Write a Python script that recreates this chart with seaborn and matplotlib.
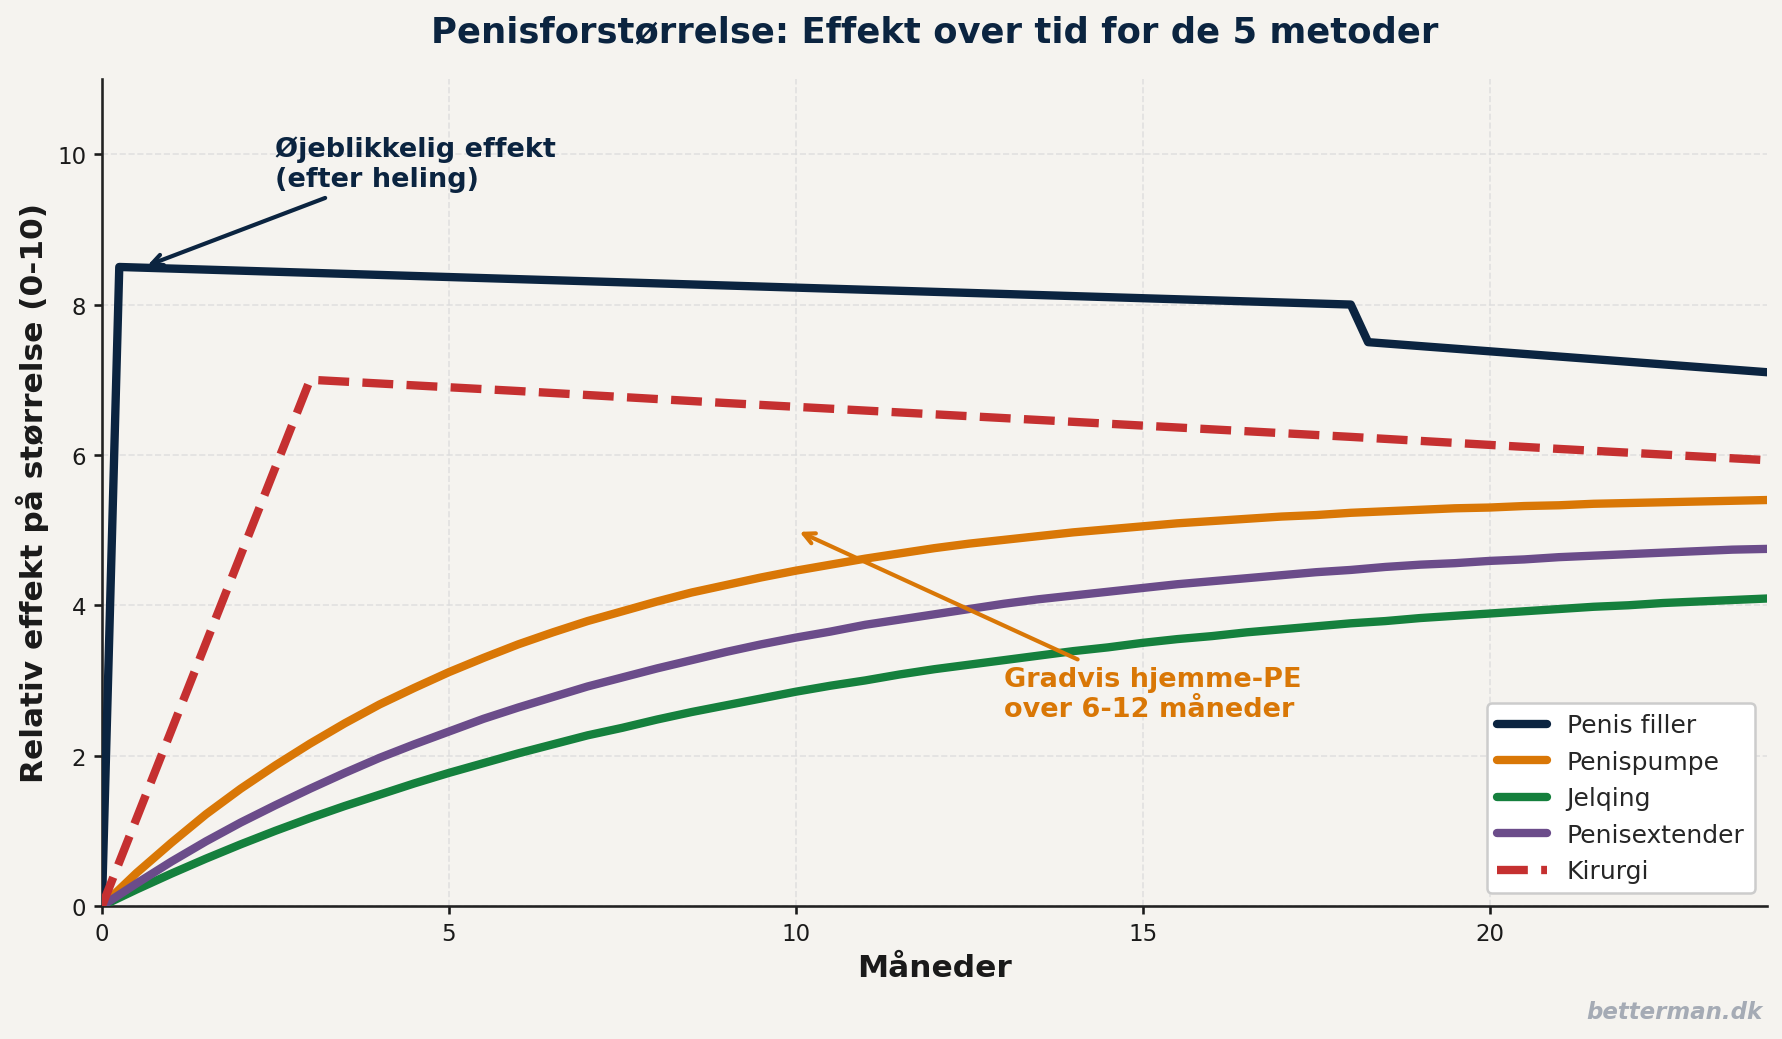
import numpy as np
import matplotlib
matplotlib.use("Agg")
import matplotlib.pyplot as plt
import pandas as pd
import seaborn as sns

# (months, relative effect 0-10), half-month steps
months = [i / 2 for i in range(49)]
pumpe = [0, 0.44, 0.84, 1.22, 1.56, 1.87, 2.16, 2.43, 2.68, 2.90, 3.11, 3.30, 3.48,
         3.64, 3.79, 3.92, 4.05, 4.17, 4.27, 4.37, 4.46, 4.54, 4.62, 4.69, 4.76,
         4.82, 4.87, 4.92, 4.97, 5.01, 5.05, 5.09, 5.12, 5.15, 5.18, 5.20, 5.23,
         5.25, 5.27, 5.29, 5.30, 5.32, 5.33, 5.35, 5.36, 5.37, 5.38, 5.39, 5.40]
jelqing = [0, 0.22, 0.43, 0.63, 0.82, 1.00, 1.17, 1.33, 1.48, 1.63, 1.77, 1.90, 2.03,
           2.15, 2.27, 2.37, 2.48, 2.58, 2.67, 2.76, 2.85, 2.93, 3.00, 3.08, 3.15,
           3.21, 3.27, 3.33, 3.39, 3.44, 3.50, 3.55, 3.59, 3.64, 3.68, 3.72, 3.76,
           3.79, 3.83, 3.86, 3.89, 3.92, 3.95, 3.98, 4.00, 4.03, 4.05, 4.07, 4.09]
extender = [0, 0.30, 0.59, 0.86, 1.11, 1.34, 1.56, 1.77, 1.97, 2.15, 2.32, 2.49, 2.64,
            2.78, 2.92, 3.04, 3.16, 3.27, 3.38, 3.48, 3.57, 3.65, 3.74, 3.81, 3.88,
            3.95, 4.02, 4.08, 4.13, 4.18, 4.23, 4.28, 4.32, 4.36, 4.40, 4.44, 4.47,
            4.51, 4.54, 4.56, 4.59, 4.61, 4.64, 4.66, 4.68, 4.70, 4.72, 4.74, 4.75]

filler_t = [0, 0.25, 18, 18.25, 24]
filler = [0, 8.5, 8.0, 7.5, 7.1]

kirurgi_t = [0, 3, 6, 9, 12, 15, 18, 21, 24]
kirurgi = [0, 7.0, 6.85, 6.69, 6.54, 6.39, 6.24, 6.08, 5.93]

labels = ["Penis filler", "Penispumpe", "Jelqing", "Penisextender", "Kirurgi"]
colors = ["#0b2440", "#d97706", "#15803d", "#6b4c8a", "#c53030"]

bg = "#f5f3ef"
navy = "#0b2440"

sns.set_theme(style="ticks")
plt.rcParams["font.family"] = ["DejaVu Sans"]

fig = plt.figure(figsize=(11.88, 6.933), dpi=150, facecolor=bg)
ax = fig.add_axes([0.0572, 0.1279, 0.9344, 0.7952])
ax.set_facecolor(bg)

df_f = pd.DataFrame({"t": filler_t, "v": filler})
df_p = pd.DataFrame({"t": months, "v": pumpe})
df_j = pd.DataFrame({"t": months, "v": jelqing})
df_e = pd.DataFrame({"t": months, "v": extender})
df_k = pd.DataFrame({"t": kirurgi_t, "v": kirurgi})

for d, lab, c in zip([df_f, df_p, df_j, df_e], labels[:4], colors[:4]):
    sns.lineplot(data=d, x="t", y="v", ax=ax, color=c, lw=4, label=lab, zorder=3)
sns.lineplot(data=df_k, x="t", y="v", ax=ax, color=colors[4], lw=4, label=labels[4],
             zorder=3)
ax.lines[-1].set_linestyle("--")

ax.set_xlim(0, 24)
ax.set_ylim(0, 11)
ax.set_xticks([0, 5, 10, 15, 20])
ax.set_yticks([0, 2, 4, 6, 8, 10])
ax.tick_params(labelsize=11, colors="#1a1a1a", length=4)
ax.grid(True, ls="--", color="#dcdcdc", lw=0.8, alpha=0.8)
sns.despine(ax=ax)
for s in ["left", "bottom"]:
    ax.spines[s].set_color("#222222")

ax.set_xlabel("Måneder", fontsize=15, fontweight="bold", color="#1a1a1a")
ax.set_ylabel("Relativ effekt på størrelse (0-10)", fontsize=15, fontweight="bold",
              color="#1a1a1a")
ax.set_title("Penisforstørrelse: Effekt over tid for de 5 metoder", fontsize=17,
             fontweight="bold", color=navy, pad=18)

ax.annotate("Øjeblikkelig effekt\n(efter heling)", xy=(0.6, 8.5), xytext=(2.5, 9.5),
            fontsize=13, fontweight="bold", color=navy, va="bottom",
            arrowprops=dict(arrowstyle="->", color=navy, lw=2))
ax.annotate("Gradvis hjemme-PE\nover 6-12 måneder", xy=(10, 5.0), xytext=(13, 2.45),
            fontsize=13, fontweight="bold", color=colors[1], va="bottom",
            arrowprops=dict(arrowstyle="->", color=colors[1], lw=2))

leg = ax.legend(loc="lower right", fontsize=12, frameon=True, facecolor="white",
                edgecolor="#cccccc", framealpha=1)
leg.get_frame().set_linewidth(1.2)

fig.text(0.989, 0.02, "betterman.dk", ha="right", va="baseline", fontsize=11,
         fontweight="bold", style="italic", color="#9ca3af", alpha=0.9)

fig.savefig("out.png", dpi=150, facecolor=bg)
